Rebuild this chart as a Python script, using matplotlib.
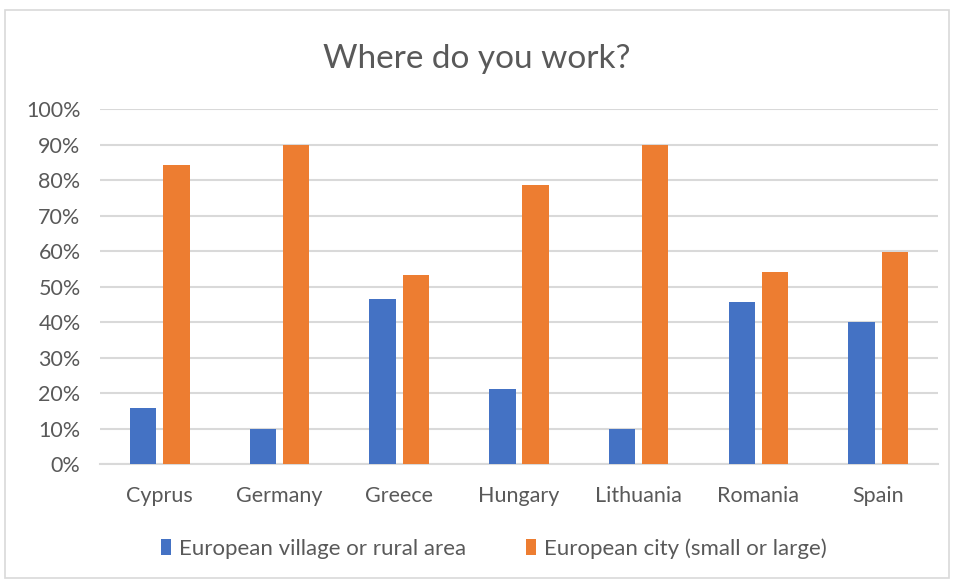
import matplotlib.pyplot as plt
import numpy as np
from matplotlib.patches import Rectangle

countries = ["Cyprus", "Germany", "Greece", "Hungary", "Lithuania", "Romania", "Spain"]
rural = [15.7, 10, 46.5, 21.1, 10, 45.7, 40]
city = [84.2, 90, 53.3, 78.7, 90, 54.0, 59.8]
series_names = ["European village or rural area", "European city (small or large)"]

plt.rcParams["font.family"] = ["Lato", "DejaVu Sans"]
text_color = "#595959"
grid_color = "#d9d9d9"

fig = plt.figure(figsize=(9.54, 5.82), dpi=100)
ax = fig.add_axes([0.1048, 0.2027, 0.8784, 0.61])

x = np.arange(len(countries))
w = 0.22
off = 0.139
ax.bar(x - off, rural, w, color="#4472C4", label=series_names[0], zorder=3)
ax.bar(x + off, city, w, color="#ED7D31", label=series_names[1], zorder=3)

ax.set_xlim(-0.5, len(countries) - 0.5)
ax.set_ylim(0, 100)
ax.set_yticks(range(0, 101, 10))
ax.set_yticklabels([f"{v}%" for v in range(0, 101, 10)])
ax.set_xticks(x)
ax.set_xticklabels(countries)
ax.yaxis.grid(True, color=grid_color, linewidth=1.5, zorder=0)
ax.tick_params(axis="both", length=0, labelsize=15.5, labelcolor=text_color)
ax.tick_params(axis="y", pad=14)
ax.tick_params(axis="x", pad=16)
for side in ["top", "right", "left"]:
    ax.spines[side].set_visible(False)
ax.spines["bottom"].set_color(grid_color)
ax.spines["bottom"].set_linewidth(1.5)

fig.text(0.5, 0.898, "Where do you work?", ha="center", va="center",
         fontsize=24, color=text_color)

fig.legend(loc="center", bbox_to_anchor=(0.518, 0.058), ncol=2, frameon=False,
           fontsize=16, labelcolor=text_color, handlelength=0.45, handleheight=0.75,
           handletextpad=0.35, columnspacing=2.7)

fig.patches.append(Rectangle((0.005, 0.007), 0.99, 0.975, transform=fig.transFigure,
                             fill=False, edgecolor=grid_color, linewidth=1.2))

fig.savefig("out.png", dpi=100)
